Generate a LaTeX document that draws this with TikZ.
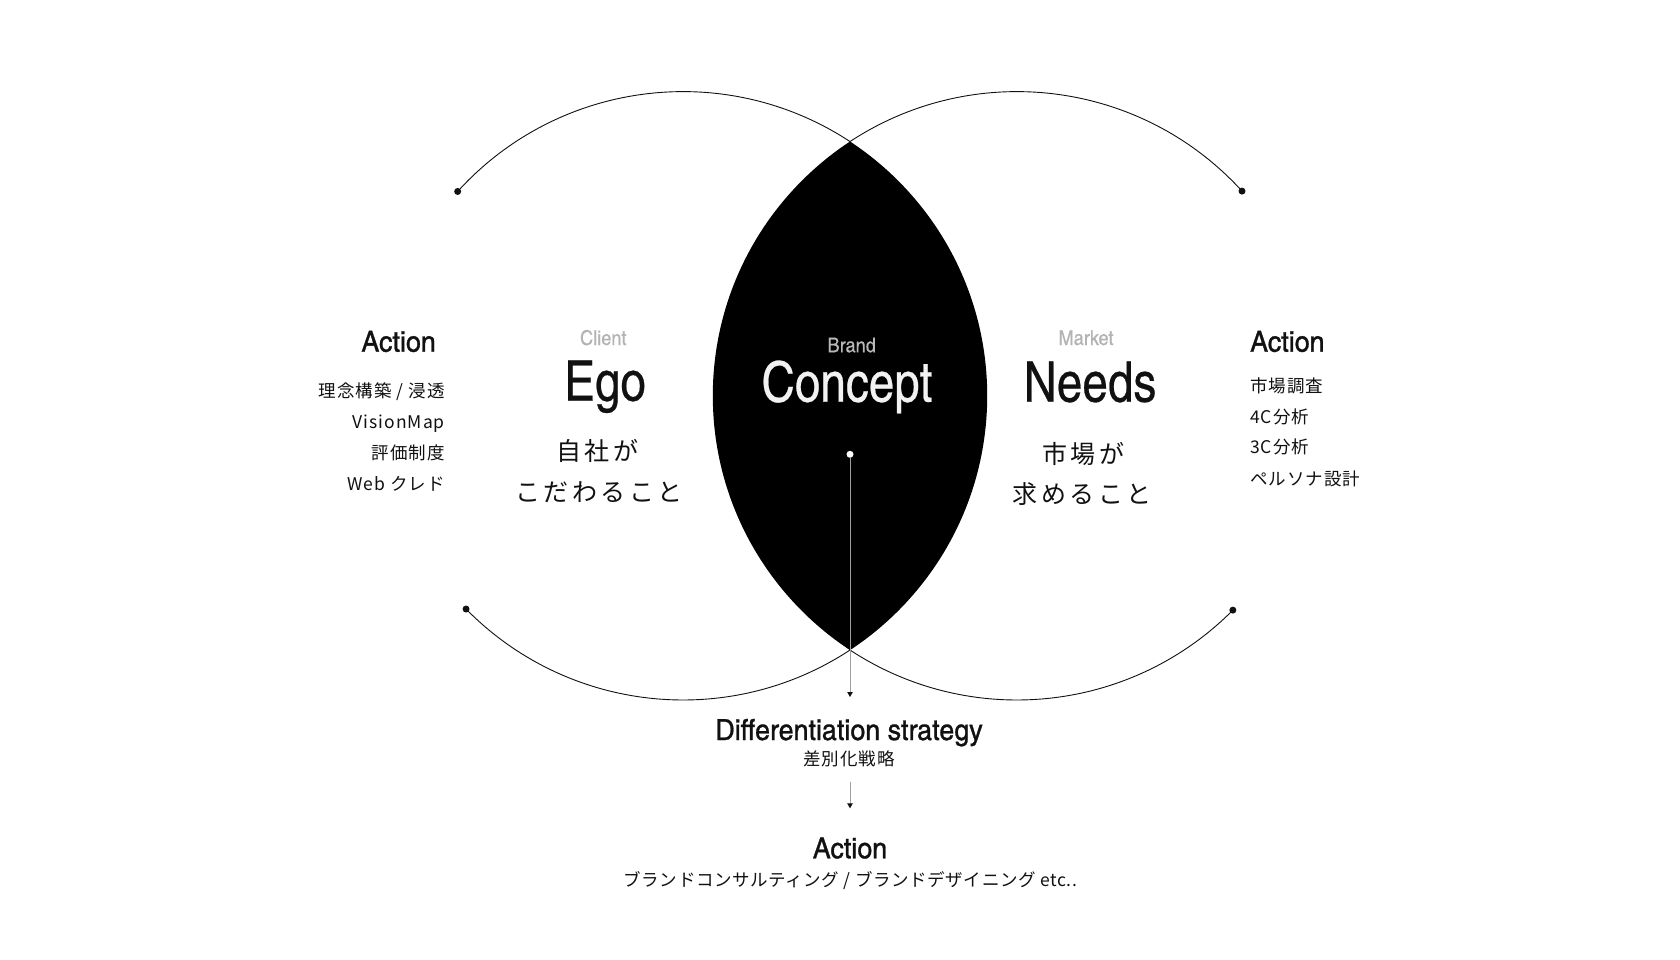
\documentclass[tikz,border=0pt]{standalone}
\usepackage{fontspec}
\usetikzlibrary{arrows.meta}
\newfontfamily\jp{Noto Sans CJK JP}
\newfontfamily\jpls[LetterSpace=6]{Noto Sans CJK JP}
\newfontfamily\jpbot[LetterSpace=3.5]{Noto Sans CJK JP}
\newfontfamily\jpwide[LetterSpace=14]{Noto Sans CJK JP}
\newfontfamily\cond{texgyreheroscn-regular.otf}
\newfontfamily\condbig[FakeBold=0.4]{texgyreheroscn-regular.otf}
\newfontfamily\condhead[FakeStretch=1.13,FakeBold=1.0]{texgyreheroscn-regular.otf}
\newfontfamily\condsmall[FakeStretch=1.08,FakeBold=0.4]{texgyreheroscn-regular.otf}
\definecolor{ink}{HTML}{111111}
\definecolor{lblgray}{HTML}{B3B3B3}
\definecolor{brandgray}{HTML}{B8B8B8}
\definecolor{conceptwhite}{HTML}{F2F2F2}
\definecolor{linegray}{HTML}{A0A0A0}
\tikzset{
  arcline/.style={draw=ink, line width=0.9pt},
  enddot/.style={circle, fill=ink, inner sep=0pt, minimum size=7pt},
  wdot/.style={circle, fill=white, inner sep=0pt, minimum size=7pt},
  conn/.style={draw=linegray, line width=0.9pt, -{Triangle[length=5pt,width=5.5pt,color=ink]}},
  headc/.style={font=\condhead\fontsize{29}{29}\selectfont, text=ink, inner sep=0pt},
  bigc/.style={font=\condbig\fontsize{56}{56}\selectfont, text=ink, inner sep=0pt},
  smallc/.style={font=\condsmall\fontsize{20.5}{20.5}\selectfont, text=lblgray, inner sep=0pt},
  listjp/.style={font=\jpls\fontsize{17.5}{17.5}\selectfont, text=ink, inner sep=0pt},
  botjp/.style={font=\jpbot\fontsize{17.5}{17.5}\selectfont, text=ink, inner sep=0pt},
  phrasejp/.style={font=\jpwide\fontsize{25}{25}\selectfont, text=ink, inner sep=0pt},
}
\begin{document}
\begin{tikzpicture}[x=1pt,y=-1pt]
\useasboundingbox[fill=white] (0,0) rectangle (1680,960);

% circle centres
\coordinate (L) at (683,395.8);
\coordinate (R) at (1017,395.8);

% lens
\begin{scope}
  \clip (L) circle[radius=304.2pt];
  \fill[black] (R) circle[radius=304.2pt];
\end{scope}

% arcs with end dots
\path (L) ++(137.8:304.2pt) node[enddot] (lt) {};
\path (L) ++(224.5:304.2pt) node[enddot] (lb) {};
\path (R) ++(42.3:304.2pt) node[enddot] (rt) {};
\path (R) ++(-44.8:304.2pt) node[enddot] (rb) {};
\draw[arcline] (lt.center) arc[start angle=137.8, end angle=56.7, radius=304.2pt];
\draw[arcline] (lb.center) arc[start angle=224.5, end angle=303.3, radius=304.2pt];
\draw[arcline] (rt.center) arc[start angle=42.3, end angle=123.3, radius=304.2pt];
\draw[arcline] (rb.center) arc[start angle=-44.8, end angle=-123.3, radius=304.2pt];

% left action list
\node[headc, anchor=base east] (lact) at (436,351.7) {Action};
\node[listjp, anchor=base east] (l1) at (445,397) {理念構築 / 浸透};
\node[listjp, anchor=base east] (l2) at (445,428.5) {VisionMap};
\node[listjp, anchor=base east] (l3) at (445,459.5) {評価制度};
\node[listjp, anchor=base east] (l4) at (445,490) {Web クレド};

% Ego
\node[smallc, anchor=base] (client) at (603.3,345) {Client};
\node[bigc, anchor=base] (ego) at (605,400.7) {Ego};
\node[phrasejp, anchor=base] (ego1) at (597,460.5) {自社が};
\node[phrasejp, anchor=base] (ego2) at (599,501) {こだわること};

% Concept
\node[smallc, text=brandgray, anchor=base] (brand) at (851.7,352.3) {Brand};
\node[bigc, text=conceptwhite, anchor=base] (concept) at (847,401.7) {Concept};
\node[wdot] (cdot) at (850,454.3) {};

% Needs
\node[smallc, anchor=base] (market) at (1086,345) {Market};
\node[bigc, anchor=base] (needs) at (1090,401.7) {Needs};
\node[phrasejp, anchor=base] (needs1) at (1083,463.5) {市場が};
\node[phrasejp, anchor=base] (needs2) at (1082,503) {求めること};

% right action list
\node[headc, anchor=base west] (ract) at (1250,351.7) {Action};
\node[listjp, anchor=base west] (r1) at (1250,392.6) {市場調査};
\node[listjp, anchor=base west] (r2) at (1250,423.3) {4C分析};
\node[listjp, anchor=base west] (r3) at (1250,453.3) {3C分析};
\node[listjp, anchor=base west] (r4) at (1250,485) {ペルソナ設計};

% bottom
\node[headc, anchor=base] (diff) at (849,740) {Differentiation strategy};
\node[listjp, anchor=base] (diffjp) at (849,765.8) {差別化戦略};
\node[headc, anchor=base] (bact) at (850,858.3) {Action};
\node[botjp, anchor=base] (bactjp) at (850.5,886) {ブランドコンサルティング / ブランドデザイニング etc..};

\coordinate (tip1) at (850,697);
\coordinate (a2s) at (850,781.7);
\coordinate (tip2) at (850,808.3);
\draw[conn] (cdot) -- (tip1);
\draw[conn] (a2s) -- (tip2);
\end{tikzpicture}
\end{document}
